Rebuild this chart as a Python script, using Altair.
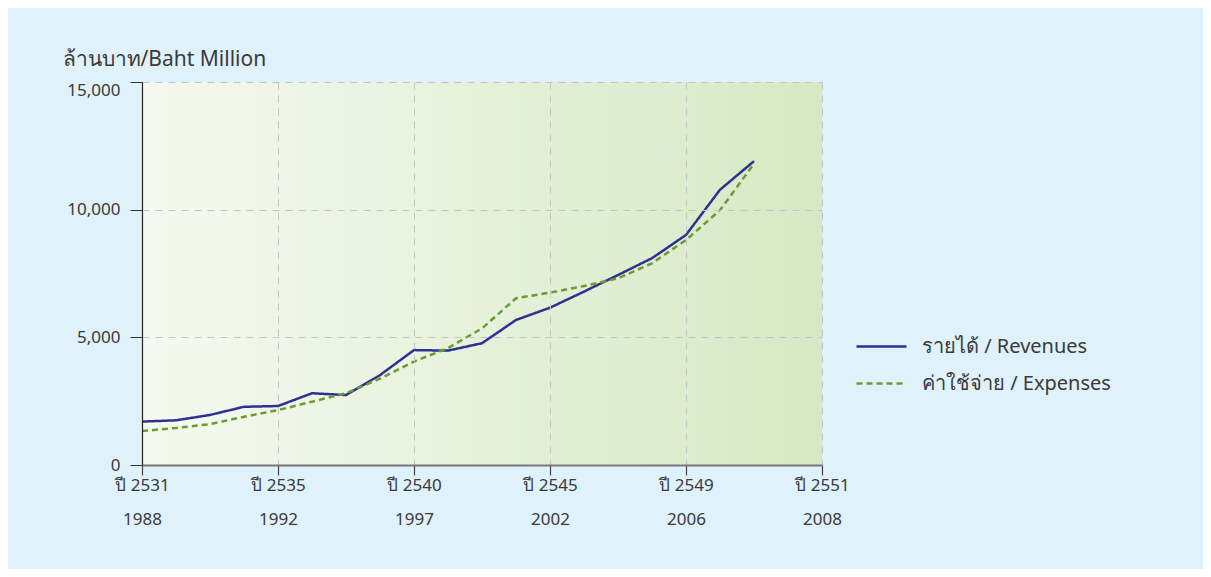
import altair as alt
import pandas as pd

# index positions on the x axis (one step per year-slot)
idx = list(range(19))
revenues = [1700, 1750, 1960, 2280, 2310, 2810, 2740, 3520, 4500, 4480, 4770,
            5680, 6160, 6790, 7440, 8100, 9010, 10780, 11900]
expenses = [1330, 1450, 1600, 1890, 2150, 2480, 2810, 3380, 4050, 4580, 5350,
            6530, 6750, 7010, 7310, 7900, 8810, 9980, 11800]

tick_pos = [0, 4, 8, 12, 16, 20]
tick_th = ["ปี 2531", "ปี 2535", "ปี 2540", "ปี 2545", "ปี 2549", "ปี 2551"]
tick_en = ["1988", "1992", "1997", "2002", "2006", "2008"]
y_ticks = [0, 5000, 10000, 15000]

rev_name = "รายได้ / Revenues"
exp_name = "ค่าใช้จ่าย / Expenses"

df = pd.concat([
    pd.DataFrame({"i": idx, "v": revenues, "s": rev_name}),
    pd.DataFrame({"i": idx, "v": expenses, "s": exp_name}),
])

label_map = "{" + ",".join(
    f"'{p}': ['{a}', '{b}']" for p, a, b in zip(tick_pos, tick_th, tick_en)
) + "}"

FONT = "Noto Sans"
TXT = "#3a3a3a"

xscale = alt.Scale(domain=[0, 20], nice=False, zero=False)
yscale = alt.Scale(domain=[0, 15000], nice=False)

xaxis = alt.Axis(values=tick_pos, title=None,
                 labelExpr=f"{label_map}[datum.value]",
                 labelFontSize=17, labelColor=TXT, labelFont=FONT,
                 labelLineHeight=34, labelPadding=2,
                 tickSize=10, tickColor="#444", tickWidth=1.2,
                 domainColor="#777", domainWidth=2,
                 grid=True, gridDash=[7, 6], gridColor="#c4c4c4",
                 labelBaseline="top", labelFlush=False, zindex=1)
yaxis = alt.Axis(values=y_ticks, format=",d",
                 title="ล้านบาท/Baht Million",
                 titleAngle=0, titleAlign="left", titleBaseline="alphabetic",
                 titleX=-80, titleY=-17, titleFontSize=21,
                 titleFontWeight="normal", titleColor=TXT, titleFont=FONT,
                 labelFontSize=17, labelColor=TXT, labelFont=FONT,
                 labelBaseline={"condition": {"test": "datum.value >= 15000",
                                              "value": "top"},
                                "value": "middle"},
                 labelPadding=10, tickSize=12, tickColor="#333",
                 domainColor="#222", domainWidth=1.2,
                 grid=True, gridDash=[7, 6], gridColor="#c4c4c4", zindex=1)

bg = alt.Chart(pd.DataFrame({"a": [0]})).mark_rect(
    fill=alt.LinearGradient(
        gradient="linear",
        stops=[alt.GradientStop(color="#f5f9f0", offset=0),
               alt.GradientStop(color="#d6e9c5", offset=1)],
        x1=0, x2=1, y1=0, y2=0,
    )
).encode(
    x=alt.datum(0, scale=xscale, axis=xaxis),
    x2=alt.datum(20),
    y=alt.datum(0, scale=yscale, axis=yaxis),
    y2=alt.datum(15000),
)

lines = alt.Chart(df).mark_line(strokeWidth=2.5).encode(
    x=alt.X("i:Q", scale=xscale, axis=xaxis),
    y=alt.Y("v:Q", scale=yscale, axis=yaxis),
    color=alt.Color("s:N",
                    scale=alt.Scale(domain=[rev_name, exp_name],
                                    range=["#2e3192", "#6a9c2e"]),
                    legend=alt.Legend(title=None, orient="none",
                                      legendX=713, legendY=238,
                                      symbolType="stroke", symbolSize=2500,
                                      symbolStrokeWidth=2.5,
                                      labelFontSize=20, labelFont=FONT,
                                      labelColor=TXT, labelOffset=14,
                                      labelLimit=0, rowPadding=-7)),
    strokeDash=alt.StrokeDash("s:N",
                              scale=alt.Scale(domain=[rev_name, exp_name],
                                              range=[[1, 0], [6, 4]]),
                              legend=None),
)

chart = alt.layer(bg, lines).properties(
    width=680, height=383,
    autosize=alt.AutoSizeParams(type="none"),
    padding={"left": 134, "top": 74, "right": 381, "bottom": 104},
    background="#dff1fb",
).configure_view(stroke=None)

chart.save("out.html", embed_options={"renderer": "svg", "actions": False})
